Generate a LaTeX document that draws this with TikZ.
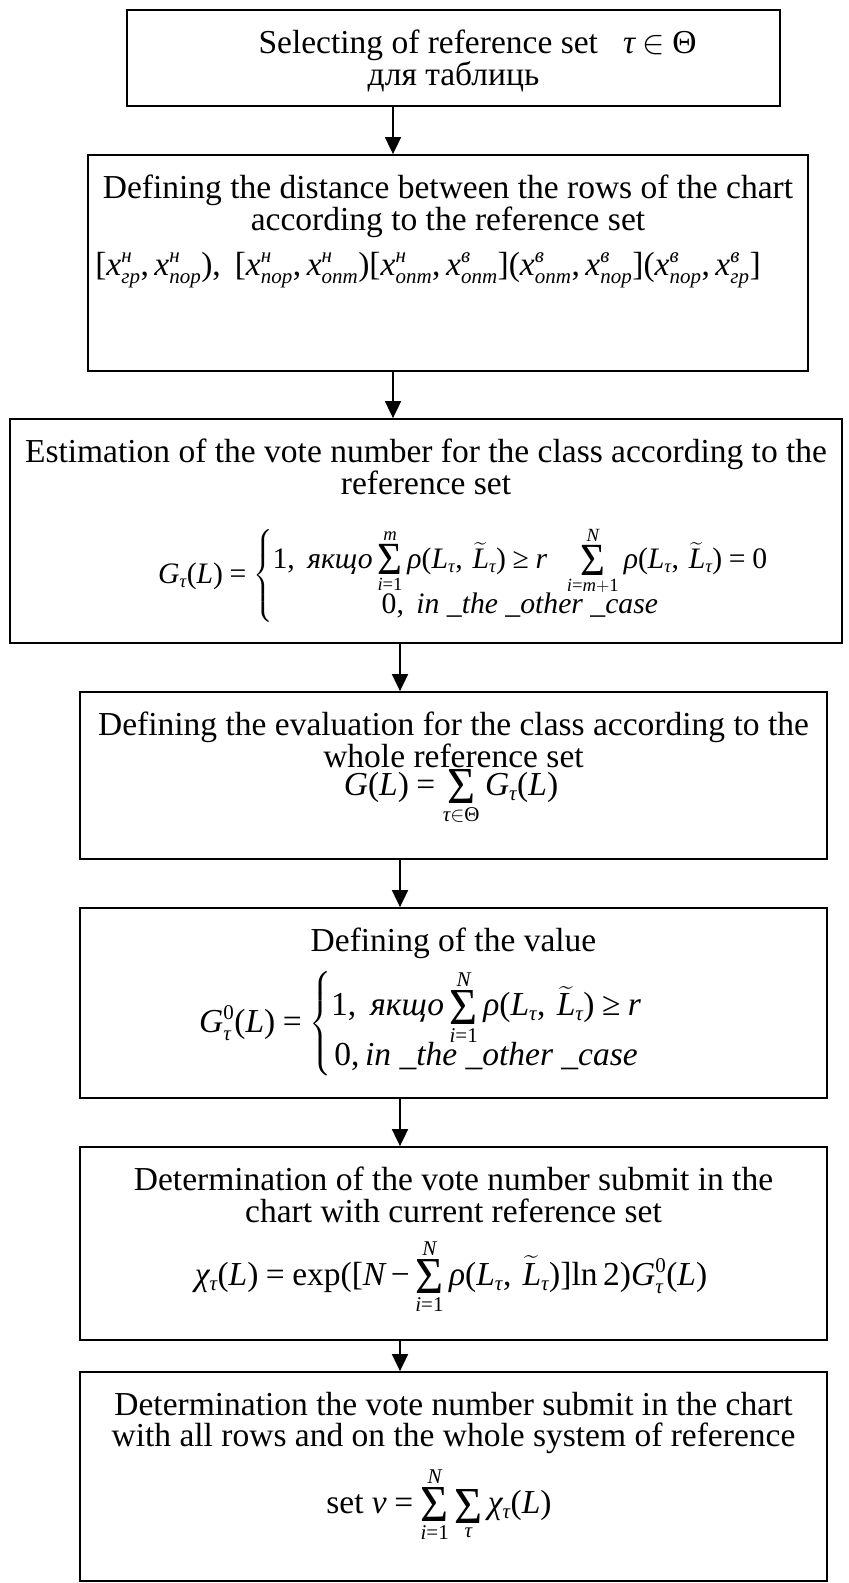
\RequirePackage{fix-cm}
\documentclass[tikz,border=0pt]{standalone}
\usepackage{amsmath}
\usepackage{graphicx}
\usepackage{fontspec}
\setmainfont{Liberation Serif}
\usetikzlibrary{arrows.meta}
\DeclareMathSizes{33.5}{33.5}{21}{16}
\DeclareSymbolFont{tnri}{TU}{\rmdefault}{m}{it}
\DeclareSymbolFont{tnrr}{TU}{\rmdefault}{m}{n}
\newcount\lettc
\AtBeginDocument{%
\lettc=97
\loop \Umathcode\lettc=7 \symtnri \lettc \ifnum\lettc<122 \advance\lettc 1 \repeat
\lettc=65
\loop \Umathcode\lettc=7 \symtnri \lettc \ifnum\lettc<90 \advance\lettc 1 \repeat
\lettc=48
\loop \Umathcode\lettc=7 \symtnrr \lettc \ifnum\lettc<57 \advance\lettc 1 \repeat
\Umathcode 40=4 \symtnrr 40 \relax
\Umathcode 41=5 \symtnrr 41 \relax
\Umathcode 91=4 \symtnrr 91 \relax
\Umathcode 93=5 \symtnrr 93 \relax
\Umathcode 44=6 \symtnrr 44 \relax
\Umathcode 61=3 \symtnrr 61 \relax
\Umathcode 45=2 \symtnrr "2212 \relax
\Umathchardef\geq=3 \symtnrr "2265 \relax
\let\ge\geq
\Umathchardef\tau=0 \symtnri "03C4 \relax
\Umathchardef\rho=0 \symtnri "03C1 \relax
\Umathchardef\chi=0 \symtnri "03C7 \relax
\Umathchardef\nu=0 \symtnri "03BD \relax
\Umathchardef\Theta=0 \symtnrr "0398 \relax
\thickmuskip=4mu plus 2mu
\medmuskip=3mu plus 1mu
}
\newcommand\xx[2]{x^{\textit{#1}}_{\textit{#2}}}
\newcommand\rhoLL{\rho(L_\tau,\,\widetilde{L}_\tau)}
\newcommand\bigsig{\resizebox{28pt}{34pt}{\char"03A3}}
\newcommand\Sum[2]{\mathop{\vcenter{\offinterlineskip\halign{\hfil##\hfil\cr$\scriptstyle #2$\cr\noalign{\kern4pt}\bigsig\cr\noalign{\kern4pt}$\scriptstyle #1$\cr}}}}
\tikzset{
  box/.style={draw, line width=1.8pt, inner sep=0pt},
  lbl/.style={align=center, inner sep=0pt, anchor=north, font=\fontsize{33.5}{31.3}\selectfont},
  fml/.style={inner sep=0pt, font=\fontsize{33.5}{31.3}\selectfont},
  arr/.style={-{Triangle[length=17pt,width=16pt]}, line width=1.8pt}
}
\begin{document}
\begin{tikzpicture}[x=1pt,y=1pt]
\fill[white] (0,0) rectangle (849,-1583);
\useasboundingbox (0,0) rectangle (849,-1583);
% boxes
\node[box, minimum width=653pt, minimum height=96pt] (b1) at (453.5,-58) {};
\node[box, minimum width=720pt, minimum height=216pt] (b2) at (448,-263) {};
\node[box, minimum width=832pt, minimum height=224pt] (b3) at (426,-531) {};
\node[box, minimum width=747pt, minimum height=167pt] (b4) at (453.5,-775.5) {};
\node[box, minimum width=747pt, minimum height=190pt] (b5) at (453.5,-1003) {};
\node[box, minimum width=747pt, minimum height=193pt] (b6) at (453.5,-1243.5) {};
\node[box, minimum width=747pt, minimum height=209pt] (b7) at (453.5,-1476.5) {};
% texts
\node[lbl] (t1) at ([yshift=-21pt]b1.north) {\hspace*{48pt}Selecting of reference set\ \ \ $\tau\in\Theta$\\ для таблиць};
\node[lbl] (t2) at ([yshift=-21pt]b2.north) {Defining the distance between the rows of the chart\\ according to the reference set};
\node[lbl] (t3) at ([yshift=-21pt]b3.north) {Estimation of the vote number for the class according to the\\ reference set};
\node[lbl] (t4) at ([yshift=-21pt]b4.north) {Defining the evaluation for the class according to the\\ whole reference set};
\node[lbl] (t5) at ([yshift=-21pt]b5.north) {Defining of the value};
\node[lbl] (t6) at ([yshift=-21pt]b6.north) {Determination of the vote number submit in the\\ chart with current reference set};
\node[lbl] (t7) at ([yshift=-21pt]b7.north) {Determination the vote number submit in the chart\\ with all rows and on the whole system of reference};
% formulas
\node[fml, anchor=base] (f2) at (428,-275) {$[\xx{н}{гр}, \xx{н}{пор}),\ [\xx{н}{пор}, \xx{н}{опт})[\xx{н}{опт}, \xx{в}{опт}](\xx{в}{опт}, \xx{в}{пор}](\xx{в}{пор}, \xx{в}{гр}]$};
\node[fml, anchor=base west] (f3) at (158,-583) {\resizebox{610pt}{!}{$G_\tau(L)=\left\{\begin{array}{@{}c@{}}
1,\ \textit{якщо}\Sum{i=1}{m}\rhoLL\ge r\ \ \Sum{i=m+1}{N}\rhoLL=0\\[18pt]
0,\ \textit{in \_the \_other \_case}
\end{array}\right.$}};
\node[fml, anchor=base] (f4) at (451,-795) {$G(L)=\Sum{\tau\in\Theta}{\vphantom{\tau\in\Theta}}G_\tau(L)$};
\node[fml, anchor=base west] (f5) at (199,-1032) {$G^{0}_\tau(L)=\left\{\begin{array}{@{}c@{}}
1,\ \textit{якщо}\Sum{i=1}{N}\rhoLL\ge r\\[14pt]
0,\textit{in \_the \_other \_case}
\end{array}\right.$};
\node[fml, anchor=base] (f6) at (451,-1285) {$\chi_\tau(L)=\text{exp}([N-\Sum{i=1}{N}\rhoLL]\text{ln}\,2)G^{0}_\tau(L)$};
\node[fml, anchor=base] (f7) at (439,-1513) {set\ $\nu=\Sum{i=1}{N}\Sum{\tau}{\vphantom{N}}\chi_\tau(L)$};
% connectors
\coordinate (a1) at (393,0);
\coordinate (a2) at (400,0);
\draw[arr] (b1.south -| a1) -- (b2.north -| a1);
\draw[arr] (b2.south -| a1) -- (b3.north -| a1);
\draw[arr] (b3.south -| a2) -- (b4.north -| a2);
\draw[arr] (b4.south -| a2) -- (b5.north -| a2);
\draw[arr] (b5.south -| a2) -- (b6.north -| a2);
\draw[arr] (b6.south -| a2) -- (b7.north -| a2);
\end{tikzpicture}
\end{document}
